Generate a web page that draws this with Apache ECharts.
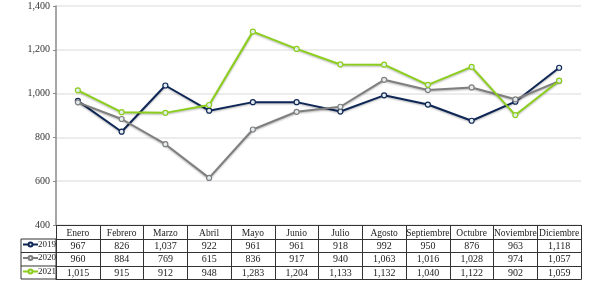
<!DOCTYPE html>
<html>
<head>
<meta charset="utf-8">
<script src="https://cdn.jsdelivr.net/npm/echarts@6/dist/echarts.min.js"></script>
<style>
  html, body { margin: 0; padding: 0; background: #fff; }
  #chart { width: 589px; height: 286px; }
</style>
</head>
<body>
<div id="chart"></div>
<script>
var months = ['Enero', 'Febrero', 'Marzo', 'Abril', 'Mayo', 'Junio', 'Julio', 'Agosto', 'Septiembre', 'Octubre', 'Noviembre', 'Diciembre'];
var years = ['2019', '2020', '2021'];
var v2019 = [967, 826, 1037, 922, 961, 961, 918, 992, 950, 876, 963, 1118];
var v2020 = [960, 884, 769, 615, 836, 917, 940, 1063, 1016, 1028, 974, 1057];
var v2021 = [1015, 915, 912, 948, 1283, 1204, 1133, 1132, 1040, 1122, 902, 1059];
var colors = ['#0f2757', '#7f7f7f', '#8cce1c'];

var serif = 'Liberation Serif';
var rows = [v2019, v2020, v2021];
var rowOffsets = [14, 27.5, 41];

function fmt(n) { return n.toLocaleString('en-US'); }

var myChart = echarts.init(document.getElementById('chart'));

var xAxes = [{
    type: 'category',
    data: months,
    position: 'bottom',
    axisLine: { lineStyle: { color: '#333', width: 1 } },
    axisTick: { show: true, interval: 0, length: 14, lineStyle: { color: '#333' } },
    axisLabel: { interval: 0, margin: 3, fontFamily: serif, fontSize: 9.5, color: '#222' }
}];
rows.forEach(function (r, i) {
    xAxes.push({
        type: 'category',
        data: r.map(fmt),
        position: 'bottom',
        offset: rowOffsets[i],
        axisLine: { lineStyle: { color: '#333', width: 1 } },
        axisTick: { show: true, interval: 0, length: 13.5, lineStyle: { color: '#333' } },
        axisLabel: { interval: 0, margin: 2, fontFamily: serif, fontSize: 10, color: '#222' }
    });
});
// bottom border of the table
xAxes.push({
    type: 'category',
    data: months,
    position: 'bottom',
    offset: 54.5,
    axisLine: { lineStyle: { color: '#333', width: 1 } },
    axisTick: { show: false },
    axisLabel: { show: false }
});

var series = years.map(function (y, i) {
    return {
        name: y,
        type: 'line',
        data: rows[i],
        symbol: 'circle',
        symbolSize: 5,
        lineStyle: {
            color: colors[i], width: 2,
            shadowColor: 'rgba(0,0,0,0.3)', shadowBlur: 2, shadowOffsetY: 1
        },
        itemStyle: { color: '#e4ecef', borderColor: colors[i], borderWidth: 1.2 },
        emphasis: { disabled: true }
    };
});

// one legend per table row, in the left column
var legends = years.map(function (y, i) {
    return {
        data: [y],
        left: 21,
        top: 239 + i * 13.5,
        padding: [1, 1, 1, 1],
        itemWidth: 15,
        itemHeight: 5,
        itemGap: 0,
        textStyle: { fontFamily: serif, fontSize: 9, color: '#222', padding: [0, 0, 0, -5] }
    };
});

var option = {
    animation: false,
    color: colors,
    grid: { left: 56, right: 8, top: 6, bottom: 61 },
    legend: legends,
    xAxis: xAxes,
    yAxis: {
        type: 'value',
        min: 400,
        max: 1400,
        interval: 200,
        axisLine: { show: true, lineStyle: { color: '#8a8a8a', width: 1.5 } },
        axisTick: { show: true, length: 3, lineStyle: { color: '#8a8a8a' } },
        axisLabel: {
            margin: 6, fontFamily: serif, fontSize: 10, color: '#333',
            formatter: function (v) { return fmt(v); }
        },
        splitLine: { lineStyle: { color: '#e6e6e6', width: 1.5 } }
    },
    graphic: [
        { type: 'rect', shape: { x: 21, y: 239, width: 35, height: 40 },
          style: { fill: 'none', stroke: '#333', lineWidth: 1 } },
        { type: 'line', shape: { x1: 21, y1: 252.5, x2: 56, y2: 252.5 }, style: { stroke: '#333', lineWidth: 1 } },
        { type: 'line', shape: { x1: 21, y1: 266, x2: 56, y2: 266 }, style: { stroke: '#333', lineWidth: 1 } }
    ],
    series: series
};
myChart.setOption(option);
</script>
</body>
</html>
